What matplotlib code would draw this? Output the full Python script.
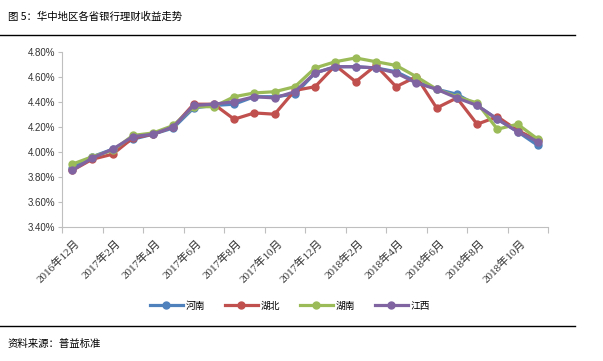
import numpy as np
import matplotlib
matplotlib.use("Agg")
import matplotlib.pyplot as plt

# data (monthly, %)
months = ["2016年12月", "2017年1月", "2017年2月", "2017年3月", "2017年4月", "2017年5月",
          "2017年6月", "2017年7月", "2017年8月", "2017年9月", "2017年10月", "2017年11月",
          "2017年12月", "2018年1月", "2018年2月", "2018年3月", "2018年4月", "2018年5月",
          "2018年6月", "2018年7月", "2018年8月", "2018年9月", "2018年10月", "2018年11月"]
henan = [3.87, 3.96, 4.02, 4.10, 4.14, 4.19, 4.35, 4.37, 4.38, 4.44, 4.44, 4.46,
         4.63, 4.68, 4.68, 4.67, 4.64, 4.56, 4.50, 4.46, 4.37, 4.26, 4.16, 4.05]
hubei = [3.85, 3.94, 3.98, 4.11, 4.14, 4.20, 4.38, 4.38, 4.26, 4.31, 4.30, 4.49,
         4.52, 4.69, 4.56, 4.69, 4.52, 4.60, 4.35, 4.43, 4.22, 4.28, 4.17, 4.09]
hunan = [3.90, 3.96, 4.01, 4.13, 4.15, 4.21, 4.36, 4.36, 4.44, 4.47, 4.48, 4.52,
         4.67, 4.72, 4.75, 4.72, 4.69, 4.60, 4.50, 4.44, 4.39, 4.18, 4.22, 4.10]
jiangxi = [3.85, 3.95, 4.02, 4.12, 4.14, 4.20, 4.37, 4.38, 4.40, 4.44, 4.43, 4.48,
           4.63, 4.68, 4.68, 4.67, 4.63, 4.55, 4.50, 4.43, 4.37, 4.26, 4.16, 4.08]

series = [("河南", henan, "#4f81bd"), ("湖北", hubei, "#c0504d"),
          ("湖南", hunan, "#9bbb59"), ("江西", jiangxi, "#8064a2")]

cjk = ["Noto Sans CJK SC", "DejaVu Sans"]
plt.rcParams["font.family"] = cjk

fig = plt.figure(figsize=(6.03, 3.61), dpi=100)
ax = fig.add_axes([62 / 603, 1 - 226.7 / 361, 486 / 603, 175 / 361])

x = np.arange(len(months))
for name, vals, col in series:
    ax.plot(x, vals, color=col, lw=2.3, marker="o", ms=5, label=name)

ax.set_ylim(3.4, 4.8)
ax.set_yticks(np.arange(3.4, 4.81, 0.2))
ax.set_yticklabels([f"{v:.2f}%" for v in np.arange(3.4, 4.81, 0.2)],
                   fontsize=7, family="Liberation Sans", color="#333333")
ax.set_xlim(-0.5, len(months) - 0.5)
ax.set_xticks(np.arange(-0.5, len(months), 2))
ax.set_xticklabels([])
ax.tick_params(axis="x", length=4, color="#bfbfbf", direction="out")
ax.tick_params(axis="y", length=3, color="#bfbfbf", direction="out", pad=2)
for s in ["top", "right"]:
    ax.spines[s].set_visible(False)
for s in ["left", "bottom"]:
    ax.spines[s].set_color("#bfbfbf")
    ax.spines[s].set_linewidth(0.8)

for i in range(0, len(months), 2):
    ax.text(i + 0.3, 3.4 - 0.12, months[i], rotation=45, rotation_mode="anchor",
            ha="right", va="center", fontsize=8, clip_on=False,
            family=["Liberation Serif", "Noto Sans CJK SC"], color="#333333")

ax.legend(loc="center", bbox_to_anchor=(290 / 603, 1 - 305.5 / 361),
          bbox_transform=fig.transFigure, ncol=4, frameon=False, fontsize=7,
          handlelength=3.4, handletextpad=0.3, columnspacing=2.0)

fig.text(8 / 603, 1 - 17 / 361, "图 5：华中地区各省银行理财收益走势", fontsize=7.5,
         va="center", ha="left")
fig.add_artist(plt.Line2D([0, 575 / 603], [1 - 35 / 361] * 2, color="black", lw=1))
fig.add_artist(plt.Line2D([0, 575 / 603], [1 - 326 / 361] * 2, color="black", lw=1))
fig.text(8 / 603, 1 - 344 / 361, "资料来源：普益标准", fontsize=7.5, va="center", ha="left")

fig.savefig("out.png", dpi=100)
